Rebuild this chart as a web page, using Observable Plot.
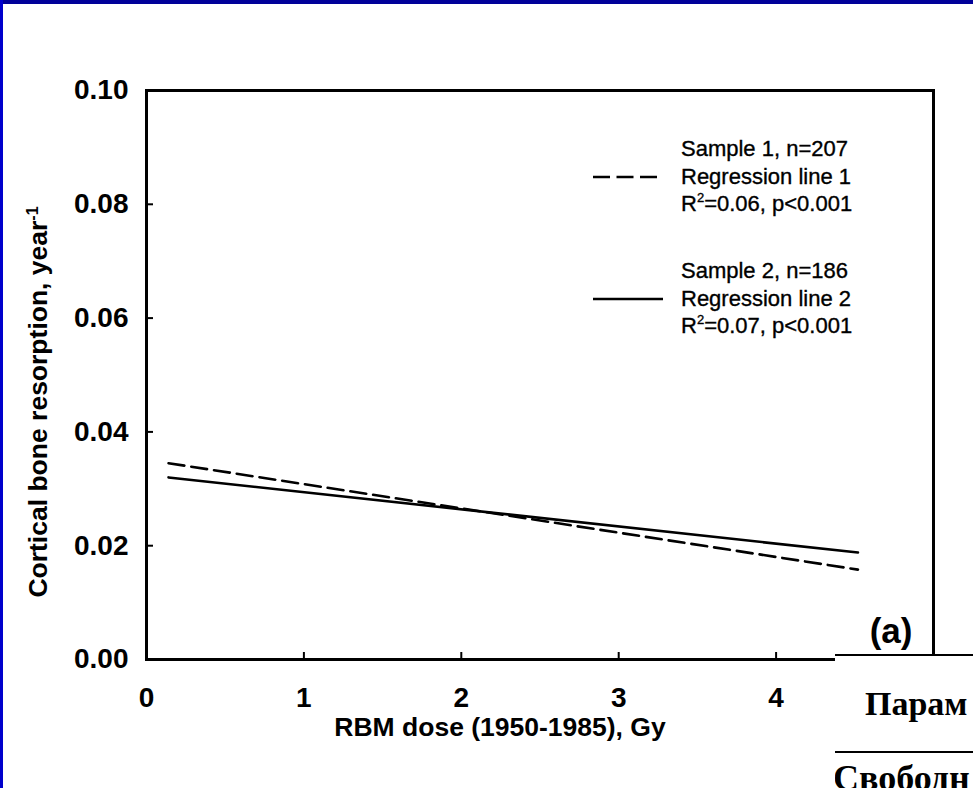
<!DOCTYPE html>
<html><head><meta charset="utf-8">
<script src="https://cdn.jsdelivr.net/npm/d3@7"></script>
<script src="https://cdn.jsdelivr.net/npm/@observablehq/plot@0.6"></script>
<style>
html,body{margin:0;padding:0;background:#fff;}
#wrap{position:relative;width:973px;height:788px;overflow:hidden;background:#fff;font-family:"Liberation Sans",Arial,sans-serif;}
#chart{position:absolute;left:0;top:0;}
.bTop{position:absolute;left:0;top:0;width:973px;height:4px;background:#000099;}
.bLeft{position:absolute;left:0;top:0;width:3px;height:788px;background:#0000cc;}
.lg{position:absolute;left:593px;font-size:22px;line-height:27.5px;color:#000;-webkit-text-stroke:0.35px #000;}
.lg .row{display:flex;align-items:center;height:27.5px;}
.lg .sw{width:88px;height:27.5px;flex:none;}
.lg sup{font-size:13px;line-height:0;vertical-align:9px;}
#table{position:absolute;left:835px;top:654px;width:138px;height:134px;background:#fff;border-top:2px solid #000;font-family:"Liberation Serif","Times New Roman",serif;font-weight:bold;font-size:34px;color:#000;white-space:nowrap;overflow:hidden;}
#table .h{position:absolute;left:30px;top:29px;}
#table .sep{position:absolute;left:0;top:95px;width:138px;border-top:2px solid #000;}
#table .r{position:absolute;left:-2px;top:101px;font-size:36px;}
</style></head><body>
<div id="wrap">
<div id="chart"></div>
<div id="legend"></div>
<div id="table"><div class="h"></div><div class="sep"></div><div class="r"></div></div>
<div class="bTop"></div><div class="bLeft"></div>
</div>
<script>
// Data
const xTicks = [0, 1, 2, 3, 4];
const yTicks = [0, 0.02, 0.04, 0.06, 0.08, 0.10];
const doseEnds = [0.14, 4.52];
const line1Values = [0.0345, 0.0158];
const line2Values = [0.0320, 0.0188];
const seriesNames = ["Regression line 1", "Regression line 2"];
const sampleLabels = ["Sample 1, n=207", "Sample 2, n=186"];
const statLabels = [["0.06", "p<0.001"], ["0.07", "p<0.001"]];
const xTitle = "RBM dose (1950-1985), Gy";
const yTitle = "Cortical bone resorption, year";
const panelLabel = "(a)";
const tableTexts = ["Парам", "Свободн"];

const rows = [];
doseEnds.forEach((d, i) => rows.push({dose: d, value: line1Values[i], series: seriesNames[0]}));
doseEnds.forEach((d, i) => rows.push({dose: d, value: line2Values[i], series: seriesNames[1]}));

const F = "Liberation Sans, Arial, sans-serif";
const plot = Plot.plot({
  width: 973, height: 788,
  marginLeft: 146, marginRight: 40, marginTop: 90, marginBottom: 129,
  style: {fontFamily: F, background: "transparent", color: "#000"},
  x: {domain: [0, 5], ticks: xTicks},
  y: {domain: [0, 0.1], ticks: yTicks},
  marks: [
    Plot.line(rows.filter(r => r.series === seriesNames[0]), {x: "dose", y: "value", stroke: "#000", strokeWidth: 2.6, strokeDasharray: "16,7"}),
    Plot.line(rows.filter(r => r.series === seriesNames[1]), {x: "dose", y: "value", stroke: "#000", strokeWidth: 2.6}),
    // inward tick marks
    Plot.axisY({ticks: yTicks, tickSize: -7, tickFormat: () => "", strokeWidth: 2, label: null}),
    Plot.axisX({ticks: xTicks, tickSize: -7, tickFormat: () => "", strokeWidth: 2, label: null}),
    Plot.frame({stroke: "#000", strokeWidth: 3}),
    Plot.axisY({ticks: yTicks, tickSize: 0, tickPadding: 18, tickFormat: d3.format(".2f"), fontSize: 28, fontWeight: "bold", label: null}),
    Plot.axisX({ticks: xTicks, tickSize: 0, tickPadding: 28, tickFormat: d3.format("d"), fontSize: 28, fontWeight: "bold", label: null}),
    Plot.text([xTitle], {frameAnchor: "bottom", dx: -40, dy: 68, lineAnchor: "middle", fontSize: 26.5, fontWeight: "bold", fill: "#000"}),
    Plot.text([yTitle], {frameAnchor: "left", dx: -108, dy: 27, rotate: -90, textAnchor: "middle", lineAnchor: "middle", fontSize: 26.5, fontWeight: "bold", fill: "#000"}),
    Plot.text([panelLabel], {frameAnchor: "bottom-right", dx: -21, dy: -28, lineAnchor: "middle", textAnchor: "end", fontSize: 35, fontWeight: "bold", fill: "#000"})
  ]
});
document.getElementById("chart").appendChild(plot);

// superscript "-1" in y title
d3.select(plot).selectAll("text").filter(function(){ return this.textContent === yTitle; })
  .each(function(){
    d3.select(this).append("tspan").attr("dy", "-0.55em").attr("font-size", "16").text("-1");
  });

// legend
const legend = document.getElementById("legend");
const tops = [135, 257];
sampleLabels.forEach((s, i) => {
  const div = document.createElement("div");
  div.className = "lg";
  div.style.top = tops[i] + "px";
  const sw = `<svg class="sw" width="88" height="27.5"><line x1="0" x2="${i === 0 ? 64 : 70}" y1="14" y2="14" stroke="#000" stroke-width="2.6" ${i === 0 ? `stroke-dasharray="17,6.5"` : ""}/></svg>`;
  div.innerHTML =
    `<div class="row"><span class="sw"></span><span>${s}</span></div>` +
    `<div class="row">${sw}<span>${seriesNames[i]}</span></div>` +
    `<div class="row"><span class="sw"></span><span>R<sup>2</sup>=${statLabels[i][0]}, ${statLabels[i][1].replace("<", "&lt;")}</span></div>`;
  legend.appendChild(div);
});

document.querySelector("#table .h").textContent = tableTexts[0];
document.querySelector("#table .r").textContent = tableTexts[1];
</script>
</body></html>
